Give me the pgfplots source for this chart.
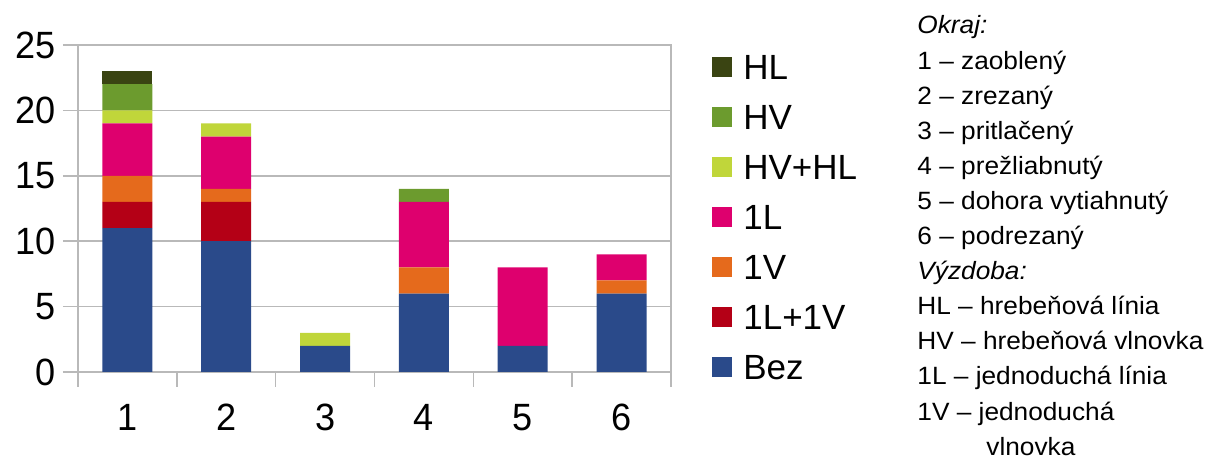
\documentclass[border=0pt]{standalone}
\usepackage{fontspec}
\setmainfont{Liberation Sans}
\newfontfamily\tickfont[FakeStretch=0.95]{Liberation Sans}
\newfontfamily\notefont[FakeStretch=1.05]{Liberation Sans}
\usepackage{pgfplots}
\usepackage{pgfplotstable}
\pgfplotsset{compat=1.18}
\definecolor{cBez}{RGB}{42,74,138}
\definecolor{cLV}{RGB}{180,0,22}
\definecolor{cV}{RGB}{229,106,28}
\definecolor{cL}{RGB}{222,0,110}
\definecolor{cHVHL}{RGB}{192,214,58}
\definecolor{cHV}{RGB}{108,155,46}
\definecolor{cHL}{RGB}{58,68,18}
\definecolor{cGrid}{RGB}{185,185,185}
\pgfplotstableread{
cat Bez LV V L HVHL HV HL
1 11 2 2 4 1 2 1
2 10 3 1 4 1 0 0
3 2 0 0 0 1 0 0
4 6 0 2 5 0 1 0
5 2 0 0 6 0 0 0
6 6 0 1 2 0 0 0
}\data
\begin{document}
\begin{tikzpicture}[x=1pt,y=1pt]
\useasboundingbox (0,0) rectangle (605,229);
\begin{axis}[
  at={(39pt,43pt)}, anchor=south west,
  scale only axis, width=296.5pt, height=163.5pt,
  ybar stacked, bar width=25pt,
  xmin=0.5, xmax=6.5, ymin=0, ymax=25,
  xtick={0.5,1.5,2.5,3.5,4.5,5.5,6.5},
  xticklabels={1,2,3,4,5,6},
  x tick label as interval,
  ytick={0,5,...,25},
  xtick pos=bottom, ytick pos=left,
  ymajorgrids, grid style={cGrid, line width=0.8pt},
  axis line style={cGrid, line width=0.8pt},
  tick align=outside, major tick length=7.5pt,
  tick style={cGrid, line width=0.8pt},
  /pgf/number format/assume math mode=true,
  ticklabel style={font=\tickfont\fontsize{19}{19}\selectfont},
  xticklabel style={yshift=-5pt},
  reverse legend,
  legend cell align=left,
  legend style={at={(1.0691,0.971)}, anchor=north west, draw=none, fill=none,
    font=\fontsize{17.5}{17.5}\selectfont, inner sep=0pt, row sep=12.5pt, column sep=0pt,
    nodes={inner sep=0pt, text height=12.5pt, text depth=0pt}},
  sq/.style={draw=none, fill=#1, legend image code/.code={\fill[#1] (0pt,-5pt) rectangle (10pt,5pt); \path (15.5pt,0pt);}},
]
\addplot[sq=cBez] table[x=cat,y=Bez]{\data};
\addlegendentry{Bez}
\addplot[sq=cLV] table[x=cat,y=LV]{\data};
\addlegendentry{1L+1V}
\addplot[sq=cV] table[x=cat,y=V]{\data};
\addlegendentry{1V}
\addplot[sq=cL] table[x=cat,y=L]{\data};
\addlegendentry{1L}
\addplot[sq=cHVHL] table[x=cat,y=HVHL]{\data};
\addlegendentry{HV+HL}
\addplot[sq=cHV] table[x=cat,y=HV]{\data};
\addlegendentry{HV}
\addplot[sq=cHL] table[x=cat,y=HL]{\data};
\addlegendentry{HL}
\end{axis}
\begin{scope}[every node/.style={anchor=base west, inner sep=0pt, font=\notefont\fontsize{12.5}{14}\selectfont}]
\node at (458.5,212) {\itshape Okraj:};
\node at (458.5,194.45) {1 – zaoblený};
\node at (458.5,176.9) {2 – zrezaný};
\node at (458.5,159.35) {3 – pritlačený};
\node at (458.5,141.8) {4 – prežliabnutý};
\node at (458.5,124.25) {5 – dohora vytiahnutý};
\node at (458.5,106.7) {6 – podrezaný};
\node at (458.5,89.15) {\itshape Výzdoba:};
\node at (458.5,71.6) {HL – hrebeňová línia};
\node at (458.5,54.05) {HV – hrebeňová vlnovka};
\node at (458.5,36.5) {1L – jednoduchá línia};
\node at (458.5,18.95) {1V – jednoduchá};
\node at (493,1.4) {vlnovka};
\end{scope}
\end{tikzpicture}
\end{document}
